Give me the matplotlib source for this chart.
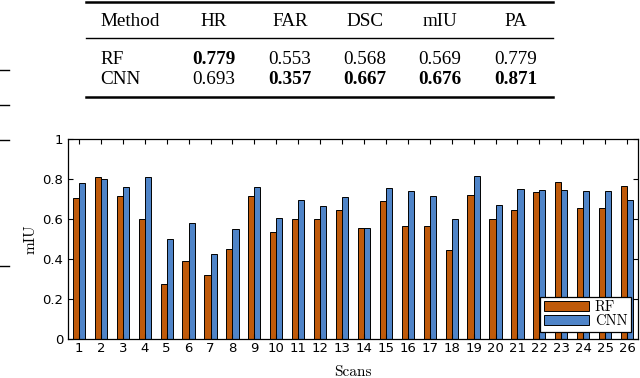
import matplotlib
matplotlib.use("Agg")
import matplotlib.pyplot as plt
from matplotlib.lines import Line2D
import numpy as np

# ---- data ----
scans = list(range(1, 27))
rf_miu = [0.705, 0.810, 0.715, 0.600, 0.278, 0.393, 0.321, 0.451, 0.718, 0.538,
          0.601, 0.600, 0.648, 0.555, 0.691, 0.565, 0.565, 0.448, 0.721, 0.601,
          0.645, 0.735, 0.786, 0.655, 0.658, 0.768]
cnn_miu = [0.783, 0.803, 0.761, 0.810, 0.500, 0.583, 0.425, 0.550, 0.761, 0.605,
           0.698, 0.666, 0.711, 0.558, 0.756, 0.741, 0.718, 0.603, 0.818, 0.670,
           0.751, 0.748, 0.745, 0.741, 0.741, 0.698]
series_names = ["RF", "CNN"]
y_ticks = [0, 0.2, 0.4, 0.6, 0.8, 1]
y_ticklabels = ["0", "0.2", "0.4", "0.6", "0.8", "1"]

table_header = ["Method", "HR", "FAR", "DSC", "mIU", "PA"]
table_rf = ["RF", "0.779", "0.553", "0.568", "0.569", "0.779"]
table_cnn = ["CNN", "0.693", "0.357", "0.667", "0.676", "0.871"]
rf_bold = [False, True, False, False, False, False]
cnn_bold = [False, False, True, True, True, True]

RF_COLOR = "#BF5A0A"
CNN_COLOR = "#4F84C8"

W, H = 640, 378
fig = plt.figure(figsize=(W / 100, H / 100), dpi=100)

def fx(px):
    return px / W

def fy(py):
    return 1 - py / H

# ---- table at top ----
serif = "Liberation Serif"
col_x = [100, 214, 290, 365, 440, 516]
for i, (h, r, c) in enumerate(zip(table_header, table_rf, table_cnn)):
    ha = "left" if i == 0 else "center"
    fig.text(fx(col_x[i]), fy(26.5), h, ha=ha, va="baseline", family=serif, fontsize=13.8)
    fig.text(fx(col_x[i]), fy(63.5), r, ha=ha, va="baseline", family=serif, fontsize=13.8,
             weight="bold" if rf_bold[i] else "normal")
    fig.text(fx(col_x[i]), fy(83.5), c, ha=ha, va="baseline", family=serif, fontsize=13.8,
             weight="bold" if cnn_bold[i] else "normal")

for yy, lw in [(2.0, 1.8), (38, 1.0), (97, 1.8)]:
    fig.add_artist(Line2D([fx(86), fx(553)], [fy(yy), fy(yy)], color="black", lw=lw,
                          transform=fig.transFigure))

# stray marks on the left edge
for yy in [70, 105, 140, 266]:
    fig.add_artist(Line2D([fx(0), fx(9)], [fy(yy), fy(yy)], color="black", lw=1.0,
                          transform=fig.transFigure))

# ---- bar chart ----
ax = fig.add_axes([fx(68), fy(339.3), fx(638) - fx(68), (339.3 - 139.3) / H])
x = np.array(scans)
bw = 0.28
ax.bar(x - bw / 2, rf_miu, width=bw, color=RF_COLOR, edgecolor="black", linewidth=0.7,
       label=series_names[0])
ax.bar(x + bw / 2, cnn_miu, width=bw, color=CNN_COLOR, edgecolor="black", linewidth=0.7,
       label=series_names[1])

ax.set_xlim(0.5, 26.5)
ax.set_ylim(0, 1)
ax.set_xticks(scans)
ax.set_xticklabels([str(s) for s in scans], family="DejaVu Sans")
ax.set_yticks(y_ticks)
ax.set_yticklabels(y_ticklabels, family="DejaVu Sans")
ax.tick_params(direction="in", length=3.5, width=0.8, top=True, right=True,
               labelsize=9.5, colors="black")
ax.tick_params(axis="x", pad=2)
ax.tick_params(axis="y", pad=3.5)
for sp in ax.spines.values():
    sp.set_linewidth(0.9)

ax.set_ylabel("mIU", family="cmr10", fontsize=11, labelpad=3)
fig.text(fx(353), fy(378.5), "Scans", ha="center", va="bottom", family="cmr10", fontsize=11)

leg = ax.legend(loc="lower right", bbox_to_anchor=(0.988, 0.0365), borderaxespad=0,
                frameon=True, fancybox=False, edgecolor="black", framealpha=1,
                prop={"family": "cmr10", "size": 10.5}, handlelength=3.1,
                handleheight=0.65, handletextpad=0.4, labelspacing=0.05,
                borderpad=0.25)
leg.get_frame().set_linewidth(0.9)

fig.savefig("out.png", dpi=100)
